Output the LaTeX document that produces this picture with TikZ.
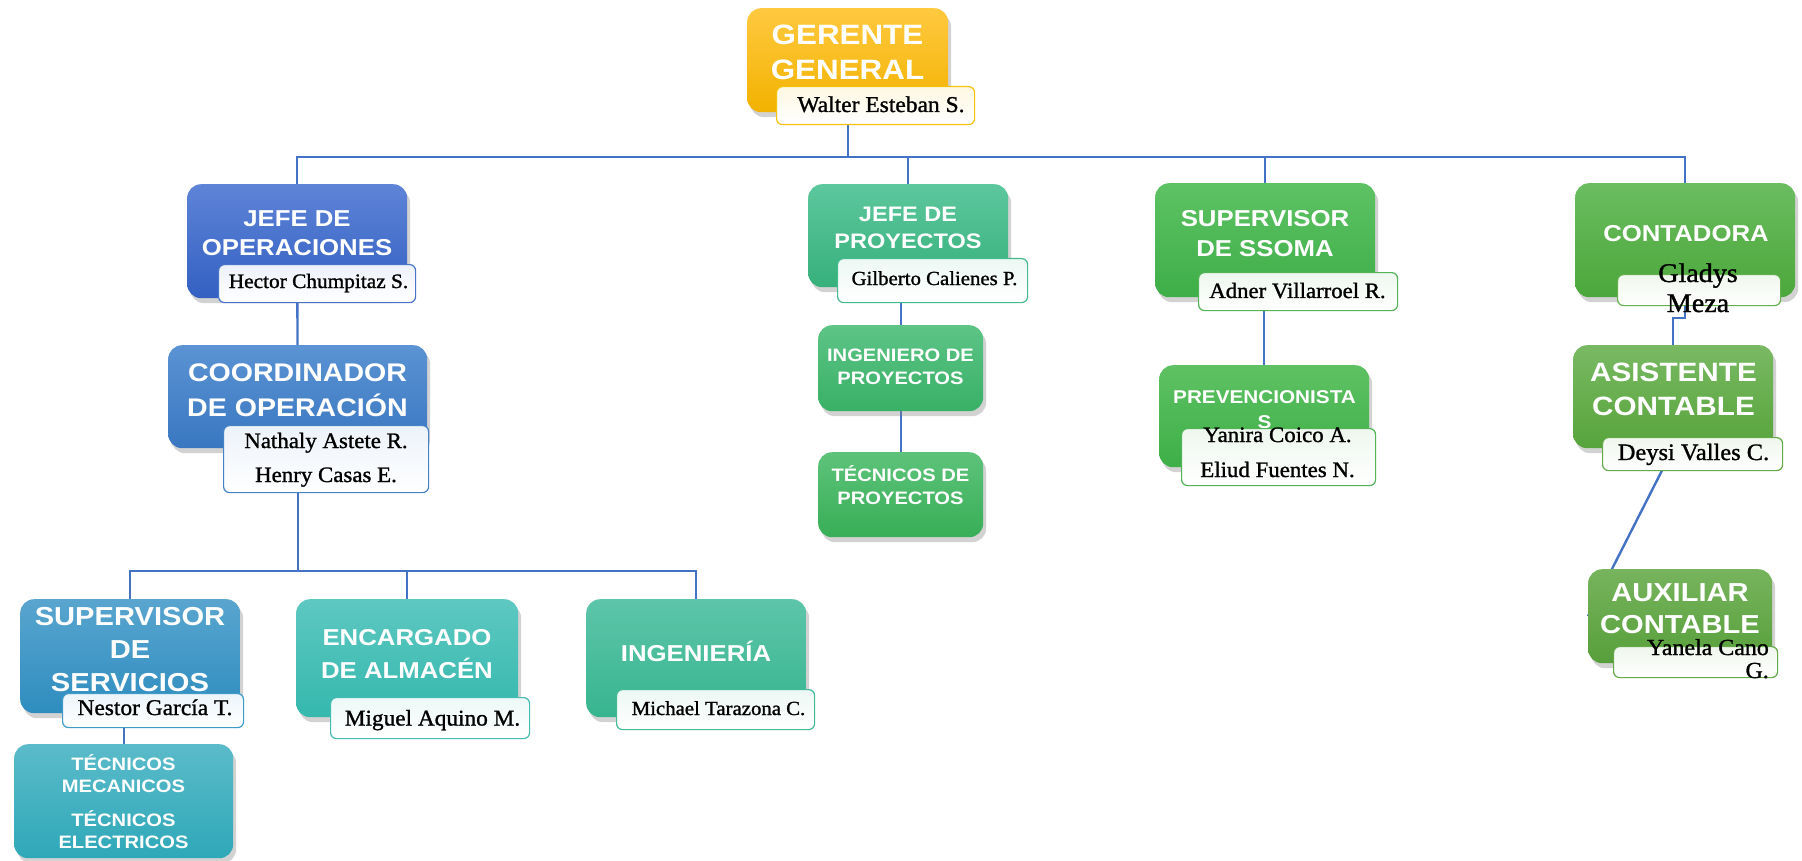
\documentclass[tikz,border=0pt]{standalone}
\usepackage{fontspec}
\setmainfont{Liberation Serif}
\newfontfamily\mytitlefont{Liberation Sans}[FakeStretch=1.12]
\newfontfamily\mynamefont{Liberation Serif}[FakeStretch=1.04, FakeBold=1.2]
\usetikzlibrary{shadows,backgrounds}
\newcommand\mytfs[2]{\mytitlefont\bfseries\fontsize{#1}{#2}\selectfont}
\newcommand\mynfs[2]{\mynamefont\fontsize{#1}{#2}\selectfont}
\definecolor{linkblue}{HTML}{4472C4}
\definecolor{ggT}{HTML}{FFC940}\definecolor{ggB}{HTML}{F2B200}\definecolor{ggL}{HTML}{F4C20D}
\definecolor{joT}{HTML}{5E84D7}\definecolor{joB}{HTML}{3360C2}\definecolor{joL}{HTML}{4A74CA}
\definecolor{coT}{HTML}{5B93D3}\definecolor{coB}{HTML}{3977C1}\definecolor{coL}{HTML}{4682C6}
\definecolor{svT}{HTML}{59A5CF}\definecolor{svB}{HTML}{2E8DBF}\definecolor{svL}{HTML}{3E9BC8}
\definecolor{tmT}{HTML}{5BBBCA}\definecolor{tmB}{HTML}{2EA8B8}
\definecolor{enT}{HTML}{5DC8C1}\definecolor{enB}{HTML}{35B8AD}\definecolor{enL}{HTML}{45BCB3}
\definecolor{inT}{HTML}{5DC5A9}\definecolor{inB}{HTML}{37B58F}\definecolor{inL}{HTML}{43B996}
\definecolor{jpT}{HTML}{5DC79D}\definecolor{jpB}{HTML}{36B07B}\definecolor{jpL}{HTML}{45BB8D}
\definecolor{ipT}{HTML}{5DC486}\definecolor{ipB}{HTML}{38B066}
\definecolor{tpT}{HTML}{5DC37A}\definecolor{tpB}{HTML}{38AE57}
\definecolor{ssT}{HTML}{5EC264}\definecolor{ssB}{HTML}{3DAE48}\definecolor{ssL}{HTML}{52B457}
\definecolor{prT}{HTML}{5EC163}\definecolor{prB}{HTML}{3DAF47}
\definecolor{ctT}{HTML}{6BBD5F}\definecolor{ctB}{HTML}{4BA73B}\definecolor{ctL}{HTML}{62AF4C}
\definecolor{asT}{HTML}{79B963}\definecolor{asB}{HTML}{57A43B}\definecolor{asL}{HTML}{65AA48}
\definecolor{axT}{HTML}{77B45D}\definecolor{axB}{HTML}{579F3B}
\tikzset{
  box/.style 2 args={rounded corners=14pt, top color=#1, bottom color=#2, draw=none,
    anchor=north west, inner sep=0pt,
    drop shadow={opacity=0.35, shadow xshift=3pt, shadow yshift=-5pt}},
  nbox/.style={rounded corners=6pt, draw=#1, line width=1.2pt, top color=#1!10,
    bottom color=white, anchor=north west, inner sep=0pt},
  ttl/.style={text=white, align=center, inner sep=0pt},
  nm/.style={text=black, align=center, inner sep=0pt},
  conn/.style={draw=linkblue, line width=2.4pt},
}
\begin{document}
\begin{tikzpicture}[x=1pt,y=-1pt]
\useasboundingbox (0,0) rectangle (1802,861);
% ---- title boxes
\node[box={ggT}{ggB}, minimum width=201pt, minimum height=104pt] (gg) at (747,8) {};
\node[box={joT}{joB}, minimum width=220pt, minimum height=114pt] (jo) at (187,184) {};
\node[box={coT}{coB}, minimum width=259pt, minimum height=103pt] (co) at (168,345) {};
\node[box={svT}{svB}, minimum width=220pt, minimum height=114pt] (ssv) at (20,599) {};
\node[box={tmT}{tmB}, minimum width=219pt, minimum height=114pt] (tm) at (14,744) {};
\node[box={enT}{enB}, minimum width=222pt, minimum height=118pt] (enc) at (296,599) {};
\node[box={inT}{inB}, minimum width=220pt, minimum height=118pt] (ing) at (586,599) {};
\node[box={jpT}{jpB}, minimum width=200pt, minimum height=103pt] (jp) at (808,184) {};
\node[box={ipT}{ipB}, minimum width=165pt, minimum height=86pt] (ip) at (818,325) {};
\node[box={tpT}{tpB}, minimum width=165pt, minimum height=85pt] (tp) at (818,452) {};
\node[box={ssT}{ssB}, minimum width=220pt, minimum height=114pt] (sso) at (1155,183) {};
\node[box={prT}{prB}, minimum width=210pt, minimum height=102pt] (pre) at (1159,365) {};
\node[box={ctT}{ctB}, minimum width=220pt, minimum height=114pt] (cont) at (1575,183) {};
\node[box={asT}{asB}, minimum width=200pt, minimum height=103pt] (asis) at (1573,345) {};
\node[box={axT}{axB}, minimum width=184pt, minimum height=94pt] (aux) at (1588,569) {};
% ---- title texts
\node[ttl, font=\mytfs{28}{35}] (gg-t) at (847.5,62.5) {\smash{GERENTE}\\\smash{GENERAL}};
\node[ttl, font=\mytfs{23}{29}] (jo-t) at (297,240.5) {\smash{JEFE DE}\\\smash{OPERACIONES}};
\node[ttl, font=\mytfs{25.5}{35}] (co-t) at (297.5,398.5) {\smash{COORDINADOR}\\\smash{DE OPERACIÓN}};
\node[ttl, font=\mytfs{26}{33}] (ssv-t) at (130,658) {\smash{SUPERVISOR}\\\smash{DE}\\\smash{SERVICIOS}};
\node[ttl, font=\mytfs{18}{22}] (tm-t) at (123.5,809) {\smash{TÉCNICOS}\\\smash{MECANICOS}\\[12pt]\smash{TÉCNICOS}\\\smash{ELECTRICOS}};
\node[ttl, font=\mytfs{23}{33}] (enc-t) at (407,661.5) {\smash{ENCARGADO}\\\smash{DE ALMACÉN}};
\node[ttl, font=\mytfs{23}{33}] (ing-t) at (696,661) {\smash{INGENIERÍA}};
\node[ttl, font=\mytfs{21}{27}] (jp-t) at (908,235) {\smash{JEFE DE}\\\smash{PROYECTOS}};
\node[ttl, font=\mytfs{18}{23}] (ip-t) at (900.5,373) {\smash{INGENIERO DE}\\\smash{PROYECTOS}};
\node[ttl, font=\mytfs{18}{23}] (tp-t) at (900.5,493) {\smash{TÉCNICOS DE}\\\smash{PROYECTOS}};
\node[ttl, font=\mytfs{23}{30}] (sso-t) at (1265,241) {\smash{SUPERVISOR}\\\smash{DE SSOMA}};
\node[ttl, font=\mytfs{18.5}{25}] (pre-t) at (1264.5,416) {\smash{PREVENCIONISTA}\\\smash{S}};
\node[ttl, font=\mytfs{23}{30}] (cont-t) at (1686,241) {\smash{CONTADORA}};
\node[ttl, font=\mytfs{26.5}{34}] (asis-t) at (1673.5,398.5) {\smash{ASISTENTE}\\\smash{CONTABLE}};
\node[ttl, font=\mytfs{26}{32}] (aux-t) at (1680,617) {\smash{AUXILIAR}\\\smash{CONTABLE}};
% ---- name boxes
\node[nbox=ggL, top color=ggL!12, minimum width=198pt, minimum height=38pt] (ggn) at (776,86) {};
\node[nbox=joL, minimum width=197pt, minimum height=38pt] (jon) at (218,264) {};
\node[nbox=coL, minimum width=205pt, minimum height=67pt] (con) at (223,425) {};
\node[nbox=svL, minimum width=181pt, minimum height=34pt] (ssvn) at (62,693) {};
\node[nbox=enL, minimum width=199pt, minimum height=41pt] (encn) at (330,697) {};
\node[nbox=inL, minimum width=198pt, minimum height=40pt] (ingn) at (616,689) {};
\node[nbox=jpL, minimum width=190pt, minimum height=44pt] (jpn) at (837,258) {};
\node[nbox=ssL, minimum width=199pt, minimum height=38pt] (sson) at (1198,272) {};
\node[nbox=ssL, minimum width=194pt, minimum height=57pt] (pren) at (1181,428) {};
\node[nbox=ctL, minimum width=163pt, minimum height=31pt] (contn) at (1617,274) {};
\node[nbox=asL, minimum width=180pt, minimum height=33pt] (asisn) at (1602,437) {};
\node[nbox=asL, minimum width=164pt, minimum height=31pt] (auxn) at (1613,646) {};
% ---- name texts
\node[nm, font=\mynfs{22.6}{27}] (ggn-t) at (881,112) {\smash{Walter Esteban S.}};
\node[nm, font=\mynfs{20.5}{25}] (jon-t) at (318.5,288) {\smash{Hector Chumpitaz S.}};
\node[nm, font=\mynfs{22}{34}] (con-t) at (326,465) {\smash{Nathaly Astete R.}\\\smash{Henry Casas E.}};
\node[nm, font=\mynfs{22.5}{27}] (ssvn-t) at (155,715) {\smash{Nestor García T.}};
\node[nm, font=\mynfs{22.4}{27}] (encn-t) at (432.5,725.5) {\smash{Miguel Aquino M.}};
\node[nm, font=\mynfs{20}{25}] (ingn-t) at (718.5,715) {\smash{Michael Tarazona C.}};
\node[nm, font=\mynfs{20}{25}] (jpn-t) at (934.5,285) {\smash{Gilberto Calienes P.}};
\node[nm, font=\mynfs{21.9}{27}] (sson-t) at (1297.5,298) {\smash{Adner Villarroel R.}};
\node[nm, font=\mynfs{22}{35}] (pren-t) at (1277.5,459.5) {\smash{Yanira Coico A.}\\\smash{Eliud Fuentes N.}};
\node[nm, font=\mynfs{27}{30}] (contn-t) at (1698,297) {\smash{Gladys}\\\smash{Meza}};
\node[nm, font=\mynfs{23.5}{28}] (asisn-t) at (1693.5,460) {\smash{Deysi Valles C.}};
\node[nm, align=right, anchor=east, font=\mynfs{23}{23}] (auxn-t) at (1769,666.5) {\smash{Yanela Cano}\\\smash{G.}};
% ---- connectors
\begin{scope}[on background layer]
\fill[white] (0,0) rectangle (1802,861);
\coordinate (bus) at (0,157);
\coordinate (bus2) at (0,571);
\coordinate (jog) at (0,318);
\draw[conn] (gg.center) -- (gg.center |- bus) -| (jo.center);
\draw[conn] (gg.center |- bus) -| (cont.center);
\draw[conn] (jp.center) -- (jp.center |- bus);
\draw[conn] (sso.center) -- (sso.center |- bus);
\draw[conn] (jo.center) -- (co.center);
\draw[conn] (co.center) -- (co.center |- bus2) -| (ssv.center);
\draw[conn] (co.center |- bus2) -| (ing.center);
\draw[conn] (enc.center) -- (enc.center |- bus2);
\draw[conn] (tm.center) -- (tm.center |- ssv.center);
\draw[conn] (ip.center) -- (ip.center |- jp.center);
\draw[conn] (ip.center) -- (tp.center);
\draw[conn] (pre.center) -- (pre.center |- sso.center);
\draw[conn] (cont.center) -- (cont.center |- jog) -| (asis.center);
\draw[conn] (asis.south) -- (aux.west);
\end{scope}
\end{tikzpicture}
\end{document}
